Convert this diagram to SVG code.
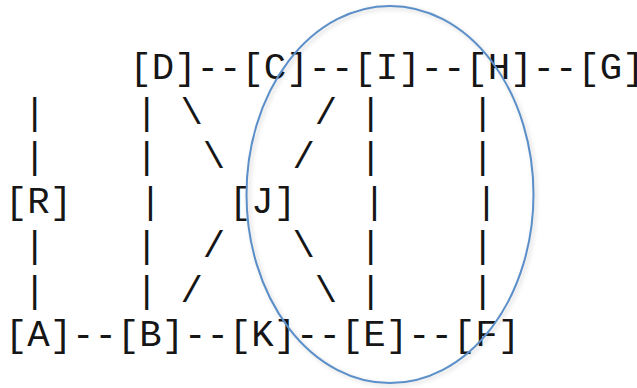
<svg xmlns="http://www.w3.org/2000/svg" width="637" height="388" viewBox="0 0 637 388">
  <defs>
    <style>
      text { font-family: "Liberation Mono", "DejaVu Sans Mono", monospace; font-size: 37.33px; fill: #161616; }
      .tight { letter-spacing: -8px; }
      .ring { fill: none; stroke: #5b8fc9; stroke-width: 2; }
      .ring-shade { fill: none; stroke: #000; stroke-opacity: 0.12; stroke-width: 3; }
    </style>
    <filter id="soft" x="-10%" y="-10%" width="120%" height="120%">
      <feGaussianBlur stdDeviation="2"/>
    </filter>
  </defs>
  <rect width="637" height="388" fill="#fff"/>

  <!-- cell pitch 22.4px; each token placed at x0 + column * 22.4 -->
  <g id="nodes">
    <g id="node-D"><text x="129.4" y="79">[D]</text></g>
    <g id="node-C"><text x="241.4" y="79">[C]</text></g>
    <g id="node-I"><text x="353.4" y="79">[I]</text></g>
    <g id="node-H"><text x="465.4" y="79">[H]</text></g>
    <g id="node-G"><text x="577.4" y="79">[G<tspan class="tight">]</tspan></text></g>
    <g id="node-R"><text x="4.9" y="212.5">[R]</text></g>
    <g id="node-J"><text x="228.9" y="212.5">[J]</text></g>
    <g id="node-A"><text x="4.9" y="346">[A]</text></g>
    <g id="node-B"><text x="116.9" y="346">[B]</text></g>
    <g id="node-K"><text x="228.9" y="346">[K]</text></g>
    <g id="node-E"><text x="340.9" y="346">[E]</text></g>
    <g id="node-F"><text x="452.9" y="346">[F]</text></g>
  </g>

  <g id="connectors">
    <!-- top row links -->
    <text x="196.6" y="79">--</text>
    <text x="308.6" y="79">--</text>
    <text x="420.6" y="79">--</text>
    <text x="532.6" y="79">--</text>
    <!-- bottom row links -->
    <text x="72.1" y="346">--</text>
    <text x="184.1" y="346">--</text>
    <text x="296.1" y="346">--</text>
    <text x="408.1" y="346">--</text>
    <!-- row 2 -->
    <text x="23.6" y="123.5">|</text>
    <text x="135.6" y="123.5">|</text>
    <text x="180.4" y="123.5">\</text>
    <text x="314.8" y="123.5">/</text>
    <text x="359.6" y="123.5">|</text>
    <text x="471.6" y="123.5">|</text>
    <!-- row 3 -->
    <text x="23.6" y="168">|</text>
    <text x="135.6" y="168">|</text>
    <text x="202.8" y="168">\</text>
    <text x="292.4" y="168">/</text>
    <text x="359.6" y="168">|</text>
    <text x="471.6" y="168">|</text>
    <!-- row 4 -->
    <text x="139.3" y="212.5">|</text>
    <text x="363.3" y="212.5">|</text>
    <text x="475.3" y="212.5">|</text>
    <!-- row 5 -->
    <text x="23.6" y="257">|</text>
    <text x="135.6" y="257">|</text>
    <text x="202.8" y="257">/</text>
    <text x="292.4" y="257">\</text>
    <text x="359.6" y="257">|</text>
    <text x="471.6" y="257">|</text>
    <!-- row 6 -->
    <text x="23.6" y="301.5">|</text>
    <text x="135.6" y="301.5">|</text>
    <text x="180.4" y="301.5">/</text>
    <text x="314.8" y="301.5">\</text>
    <text x="359.6" y="301.5">|</text>
    <text x="471.6" y="301.5">|</text>
  </g>

  <!-- grouping ellipse with a faint drop shade -->
  <g id="group-ring">
    <ellipse class="ring-shade" cx="392" cy="196.5" rx="143.5" ry="188.5" filter="url(#soft)"/>
    <ellipse class="ring" cx="390" cy="194.5" rx="143.5" ry="188.5"/>
  </g>
</svg>
